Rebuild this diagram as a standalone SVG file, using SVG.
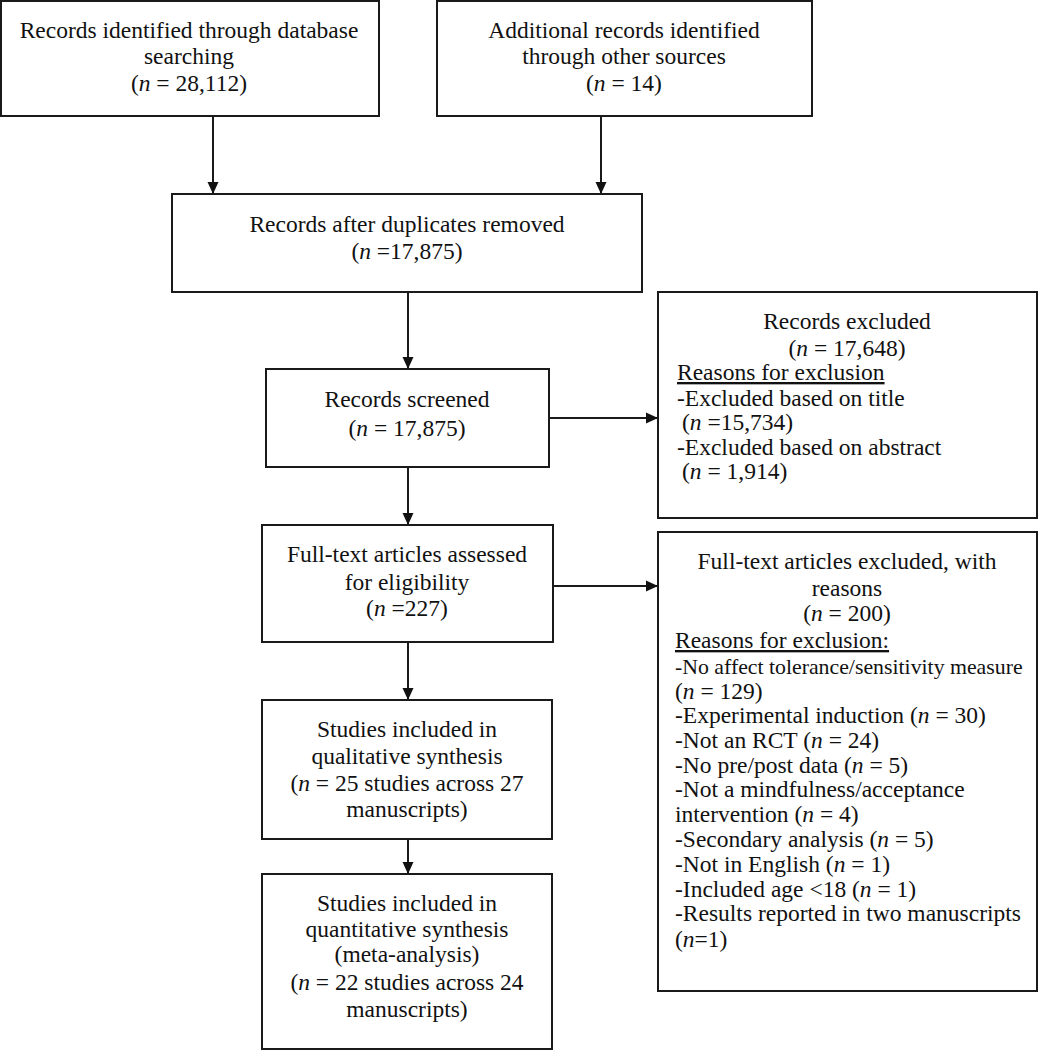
<svg xmlns="http://www.w3.org/2000/svg" width="1038" height="1050" viewBox="0 0 1038 1050">
  <style>
    .box { fill: #ffffff; stroke: #1a1a1a; stroke-width: 2; }
    .t { font-family: "Liberation Serif", "Times New Roman", serif; font-size: 23.5px; fill: #111111; }
    .c { text-anchor: middle; }
    .i { font-style: italic; }
    .u { text-decoration: underline; }
    .edge { stroke: #1a1a1a; stroke-width: 2; fill: none; marker-end: url(#arrow); }
  </style>
  <defs>
    <marker id="arrow" markerUnits="userSpaceOnUse" markerWidth="12" markerHeight="12" viewBox="0 0 12 12" refX="12" refY="6" orient="auto">
      <path d="M0,0.5 L12,6 L0,11.5 z" fill="#111111"/>
    </marker>
  </defs>
  <rect width="1038" height="1050" fill="#ffffff"/>

  <g id="connectors">
    <line class="edge" x1="213" y1="116" x2="213" y2="194"/>
    <line class="edge" x1="601" y1="116" x2="601" y2="194"/>
    <line class="edge" x1="408" y1="292" x2="408" y2="369"/>
    <line class="edge" x1="549" y1="418" x2="658" y2="418"/>
    <line class="edge" x1="408" y1="467" x2="408" y2="525"/>
    <line class="edge" x1="553" y1="586" x2="658" y2="586"/>
    <line class="edge" x1="408" y1="642" x2="408" y2="700"/>
    <line class="edge" x1="408" y1="839" x2="408" y2="874"/>
  </g>

  <g id="db-records">
    <rect class="box" x="1" y="1" width="378" height="115"/>
    <text class="t c" x="189" y="38">Records identified through database</text>
    <text class="t c" x="189" y="64">searching</text>
    <text class="t c" x="189" y="91">(<tspan class="i">n</tspan> = 28,112)</text>
  </g>

  <g id="other-records">
    <rect class="box" x="437" y="1" width="375" height="115"/>
    <text class="t c" x="624" y="38">Additional records identified</text>
    <text class="t c" x="624" y="64">through other sources</text>
    <text class="t c" x="624" y="91">(<tspan class="i">n</tspan> = 14)</text>
  </g>

  <g id="duplicates-removed">
    <rect class="box" x="172" y="194" width="470" height="98"/>
    <text class="t c" x="407" y="232">Records after duplicates removed</text>
    <text class="t c" x="407" y="259">(<tspan class="i">n</tspan> =17,875)</text>
  </g>

  <g id="screened">
    <rect class="box" x="266" y="369" width="283" height="98"/>
    <text class="t c" x="407" y="407">Records screened</text>
    <text class="t c" x="407" y="436">(<tspan class="i">n</tspan> = 17,875)</text>
  </g>

  <g id="records-excluded">
    <rect class="box" x="658" y="292" width="379" height="226"/>
    <text class="t c" x="847" y="329">Records excluded</text>
    <text class="t c" x="847" y="356">(<tspan class="i">n</tspan> = 17,648)</text>
    <text class="t u" x="677" y="380">Reasons for exclusion</text>
    <text class="t" x="677" y="406">-Excluded based on title</text>
    <text class="t" x="682" y="430">(<tspan class="i">n</tspan> =15,734)</text>
    <text class="t" x="677" y="455">-Excluded based on abstract</text>
    <text class="t" x="682" y="479">(<tspan class="i">n</tspan> = 1,914)</text>
  </g>

  <g id="fulltext-assessed">
    <rect class="box" x="262" y="525" width="291" height="117"/>
    <text class="t c" x="407" y="562">Full-text articles assessed</text>
    <text class="t c" x="407" y="590">for eligibility</text>
    <text class="t c" x="407" y="616">(<tspan class="i">n</tspan> =227)</text>
  </g>

  <g id="fulltext-excluded">
    <rect class="box" x="658" y="532" width="379" height="459"/>
    <text class="t c" x="847" y="569">Full-text articles excluded, with</text>
    <text class="t c" x="847" y="596">reasons</text>
    <text class="t c" x="847" y="621">(<tspan class="i">n</tspan> = 200)</text>
    <text class="t u" x="675" y="648">Reasons for exclusion:</text>
    <text class="t" x="675" y="674" style="font-size:21.8px">-No affect tolerance/sensitivity measure</text>
    <text class="t" x="675" y="699">(<tspan class="i">n</tspan> = 129)</text>
    <text class="t" x="675" y="723">-Experimental induction (<tspan class="i">n</tspan> = 30)</text>
    <text class="t" x="675" y="748">-Not an RCT (<tspan class="i">n</tspan> = 24)</text>
    <text class="t" x="675" y="773">-No pre/post data (<tspan class="i">n</tspan> = 5)</text>
    <text class="t" x="675" y="797">-Not a mindfulness/acceptance</text>
    <text class="t" x="675" y="822">intervention (<tspan class="i">n</tspan> = 4)</text>
    <text class="t" x="675" y="847">-Secondary analysis (<tspan class="i">n</tspan> = 5)</text>
    <text class="t" x="675" y="872">-Not in English (<tspan class="i">n</tspan> = 1)</text>
    <text class="t" x="675" y="897">-Included age &lt;18 (<tspan class="i">n</tspan> = 1)</text>
    <text class="t" x="675" y="921">-Results reported in two manuscripts</text>
    <text class="t" x="675" y="947">(<tspan class="i">n</tspan>=1)</text>
  </g>

  <g id="qualitative">
    <rect class="box" x="262" y="700" width="290" height="139"/>
    <text class="t c" x="407" y="737">Studies included in</text>
    <text class="t c" x="407" y="764">qualitative synthesis</text>
    <text class="t c" x="407" y="791">(<tspan class="i">n</tspan> = 25 studies across 27</text>
    <text class="t c" x="407" y="817">manuscripts)</text>
  </g>

  <g id="quantitative">
    <rect class="box" x="262" y="874" width="290" height="175"/>
    <text class="t c" x="407" y="911">Studies included in</text>
    <text class="t c" x="407" y="937">quantitative synthesis</text>
    <text class="t c" x="407" y="962">(meta-analysis)</text>
    <text class="t c" x="407" y="990">(<tspan class="i">n</tspan> = 22 studies across 24</text>
    <text class="t c" x="407" y="1017">manuscripts)</text>
  </g>
</svg>
